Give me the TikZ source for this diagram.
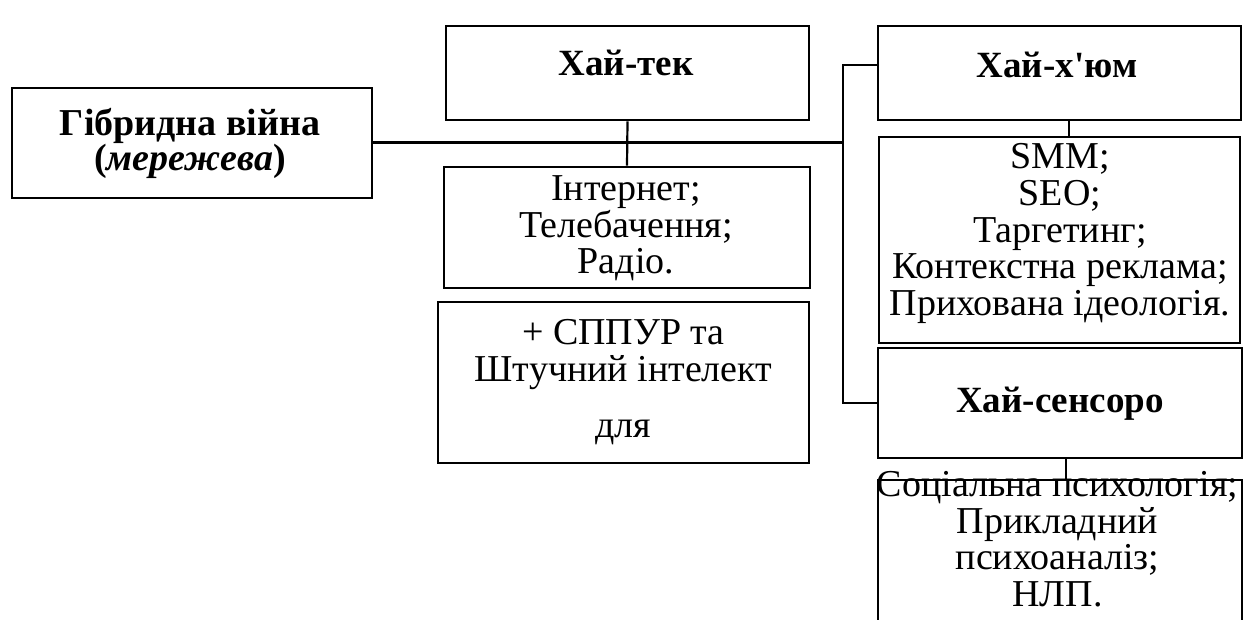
\documentclass[tikz,border=0pt]{standalone}
\usepackage{fontspec}
\setmainfont{Liberation Serif}
\newfontfamily\timesfont{Liberation Serif}
\usetikzlibrary{positioning}

\begin{document}
\begin{tikzpicture}[
    x=0.5pt, y=-0.5pt,
    frame/.style={rectangle, draw, line width=1.4pt, inner sep=0pt},
    head/.style={inner sep=0pt, align=center, font=\timesfont\fontsize{18.5}{18}\selectfont\bfseries},
    bighead/.style={head, font=\timesfont\fontsize{19}{17.5}\selectfont\bfseries},
    list/.style={inner sep=0pt, align=center, font=\timesfont\fontsize{19}{18.3}\selectfont},
    trunk/.style={line width=1.5pt},
    branch/.style={line width=1.1pt},
    twig/.style={line width=0.6pt}
]
\clip (0,0) rectangle (1251,620);

% --- frames ---
\node[frame, minimum width=180pt, minimum height=55pt]   (main)   at (192,143)    {};
\node[frame, minimum width=181.5pt, minimum height=47pt] (hitek)  at (627.5,73)   {};
\node[frame, minimum width=183pt, minimum height=60.5pt] (media)  at (627,227.5)  {};
\node[frame, minimum width=185.5pt, minimum height=80.5pt] (ai)   at (623.5,382.5) {};
\node[frame, minimum width=181.5pt, minimum height=47pt] (hihum)  at (1059.5,73)  {};
\node[frame, minimum width=180.5pt, minimum height=103pt] (smm)   at (1059.5,240) {};
\node[frame, minimum width=182pt, minimum height=55pt]   (hisens) at (1060,403)   {};
\node[frame, minimum width=182pt, minimum height=110pt]  (psy)    at (1060,590)   {};

% --- texts ---
\node[bighead] (main-txt)   at (190,143)    {Гібридна війна\\(\textit{мережева})};
\node[head]    (hitek-txt)  at (626,63)     {Хай-тек};
\node[head]    (hihum-txt)  at (1057,64.5)  {Хай-х'юм};
\node[head]    (hisens-txt) at (1060,404)   {Хай-сенсоро};
\node[list]    (media-txt)  at (626,228.5)  {Інтернет;\\Телебачення;\\Радіо.};
\node[list]    (ai-txt)     at (623.5,382)  {+ СППУР та\\Штучний інтелект\\[9.5pt]для};
\node[list]    (smm-txt)    at (1060,233.5) {SMM;\\SEO;\\Таргетинг;\\Контекстна реклама;\\Прихована ідеологія.};
\node[list]    (psy-txt)    at (1057.5,539) {Соціальна психологія;\\Прикладний\\психоаналіз;\\НЛП.};

% --- connectors ---
\coordinate (fork) at (843,143);
\draw[trunk]  (main.east) -- (fork);
\draw[branch] (fork) |- ([yshift=4pt]hihum.west);
\draw[branch] (fork) |- (hisens.west);
\draw[branch] (hitek.south) -- (media.north);
\draw[twig] ([xshift=4.75pt]hihum.south) -- ([xshift=4.75pt]hihum.south |- smm.north);
\draw[twig] ([xshift=3pt]hisens.south) -- ([xshift=3pt]hisens.south |- psy.north);

\end{tikzpicture}
\end{document}
